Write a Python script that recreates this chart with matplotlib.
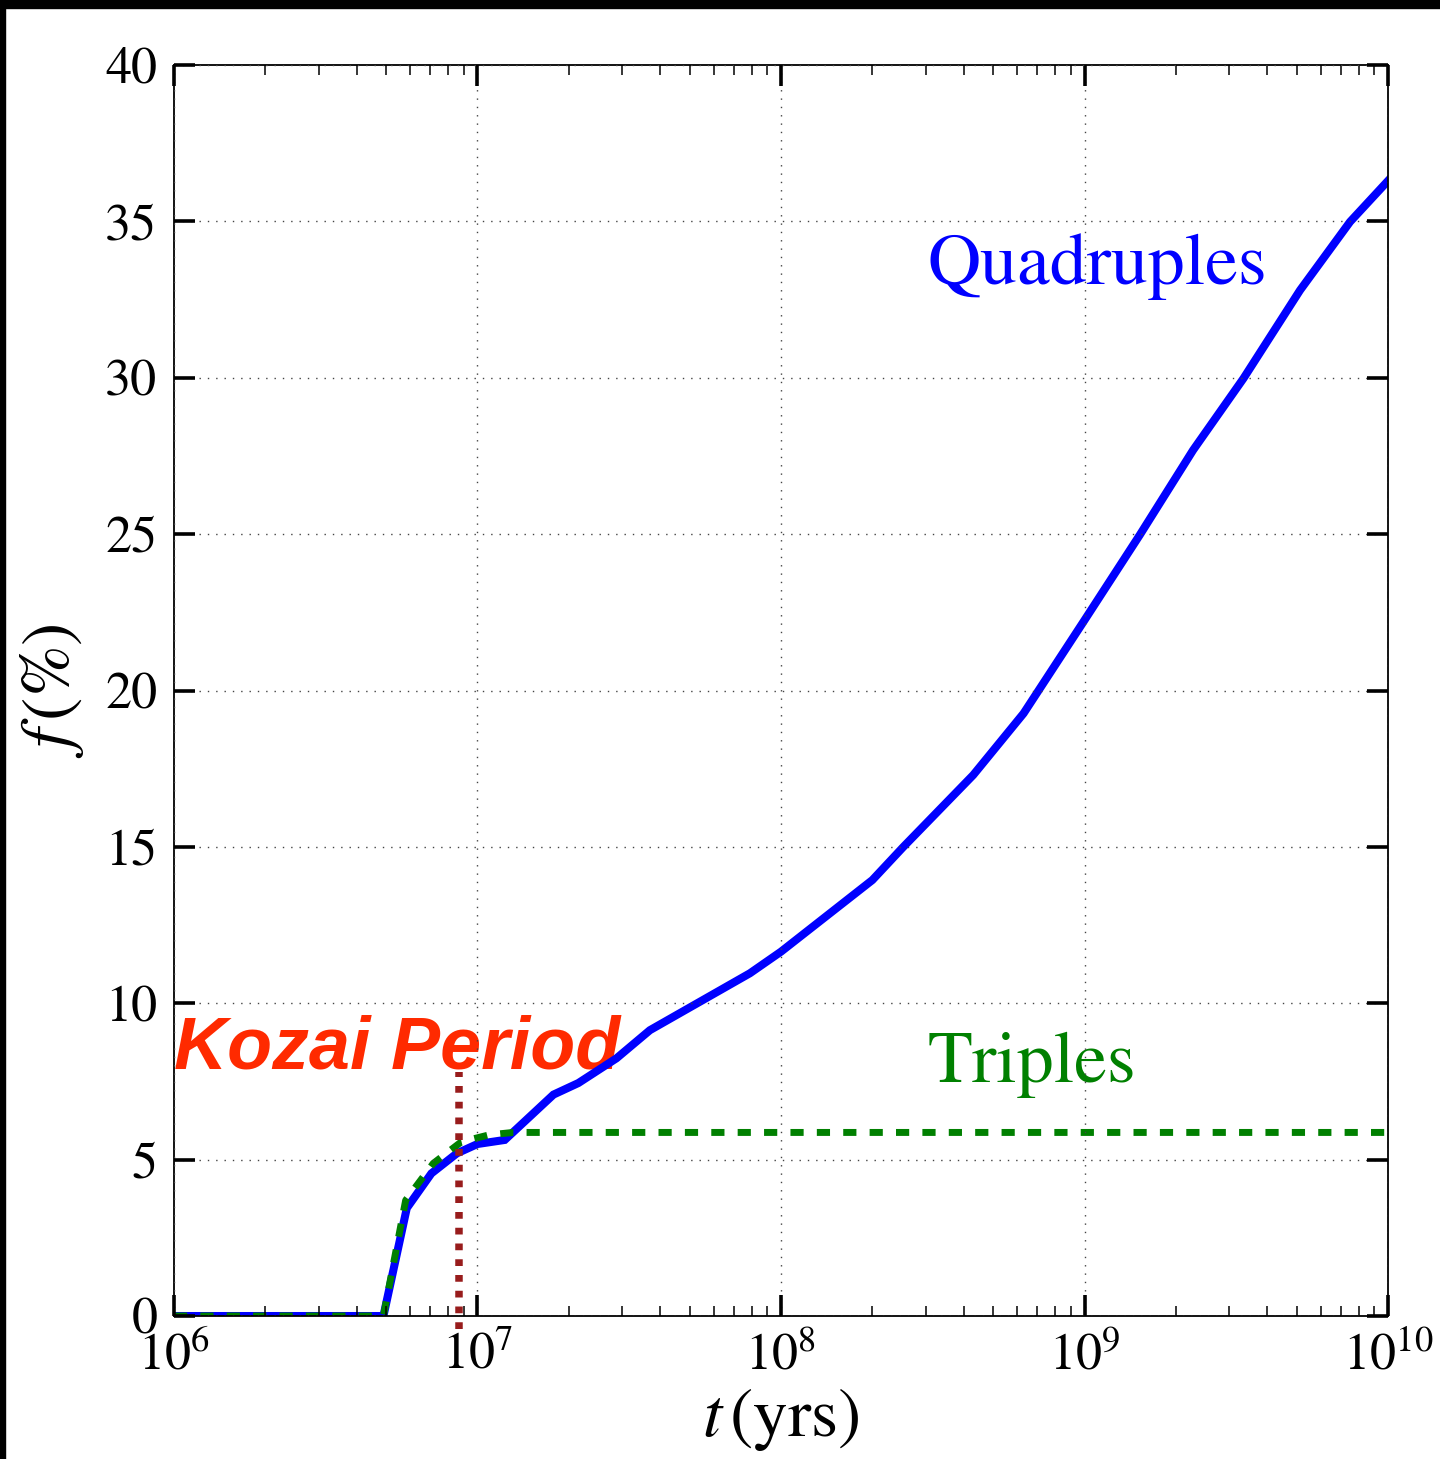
import matplotlib
matplotlib.use('Agg')
import matplotlib.pyplot as plt
from matplotlib.patches import Rectangle
from matplotlib.ticker import LogLocator, MultipleLocator, NullFormatter

plt.rcParams['font.family'] = ['STIXGeneral', 'DejaVu Serif']
plt.rcParams['mathtext.fontset'] = 'stix'

# 四體系統（Quadruples）累積比例
t_quad = [1e6, 4.9e6, 5.85e6, 7.05e6, 8.55e6, 1.0e7, 1.23e7, 1.78e7, 2.15e7,
          2.87e7, 3.7e7, 7.9e7, 1.0e8, 2.0e8, 2.53e8, 4.3e8, 6.3e8, 1.0e9,
          1.52e9, 2.28e9, 3.34e9, 5.13e9, 7.5e9, 1.0e10]
f_quad = [0.0, 0.0, 3.45, 4.56, 5.2, 5.5, 5.63, 7.08, 7.45,
          8.24, 9.14, 10.96, 11.65, 13.94, 15.0, 17.3, 19.27, 22.25,
          24.97, 27.69, 29.98, 32.8, 34.99, 36.3]

# 三體系統（Triples）累積比例
t_trip = [1e6, 4.9e6, 5.8e6, 7.15e6, 8.85e6, 1.09e7, 1.31e7, 1.0e10]
f_trip = [0.0, 0.0, 3.7, 4.88, 5.57, 5.79, 5.87, 5.87]

# Kozai 週期
t_kozai = 8.7e6
kozai_span = [-0.4, 7.8]

y_ticks = [0, 5, 10, 15, 20, 25, 30, 35, 40]

fig = plt.figure(figsize=(14.4, 14.59), dpi=100)
ax = fig.add_axes([0.1208, 0.0980, 0.8431, 0.8574])

# 圖片上方與左側的黑邊
fig.patches.append(Rectangle((0, 1 - 8 / 1459), 1, 8 / 1459, transform=fig.transFigure,
                             color='black', zorder=0))
fig.patches.append(Rectangle((0, 0), 5 / 1440, 1, transform=fig.transFigure,
                             color='black', zorder=0))

ax.plot(t_quad, f_quad, color='#0000ff', lw=5.8, solid_joinstyle='miter', zorder=2)
ax.plot(t_trip, f_trip, color='#008000', lw=5.0, dashes=(1.9, 1.9), zorder=2.1)
ax.plot([t_kozai, t_kozai], kozai_span, color='#981c1c', lw=5.4,
        dashes=(0.9, 1.2), clip_on=False, zorder=2.2)

ax.set_xscale('log')
ax.set_xlim(1e6, 1e10)
ax.set_ylim(0, 40)
ax.set_yticks(y_ticks)
ax.xaxis.set_major_locator(LogLocator(base=10, numticks=10))
ax.xaxis.set_minor_locator(LogLocator(base=10, subs=range(2, 10), numticks=50))
ax.xaxis.set_minor_formatter(NullFormatter())

ax.set_axisbelow(False)
ax.grid(True, which='major', color='#444444', lw=1.0, dashes=(1, 5))

ax.tick_params(which='both', direction='in', top=True, right=True, labelsize=37.5, pad=12)
ax.tick_params(which='major', length=15, width=2.6)
ax.tick_params(which='minor', length=7, width=1.1)
for s in ax.spines.values():
    s.set_linewidth(1.3)

ax.set_xlabel(r'$t\,(\mathrm{yrs})$', fontsize=50, labelpad=4)
ax.set_ylabel(r'$f\,(\%)$', fontsize=50, labelpad=14)

ax.text(1e6, 7.93, 'Kozai Period', color='#ff2a00', fontsize=53,
        family='Liberation Sans', fontweight='bold', fontstyle='italic',
        ha='left', va='baseline', zorder=1.9)
ax.text(3.05e8, 33.0, 'Quadruples', color='#0000ff', fontsize=53,
        ha='left', va='baseline', zorder=1.9)
ax.text(3.05e8, 7.48, 'Triples', color='#008000', fontsize=53,
        ha='left', va='baseline', zorder=1.9)

fig.savefig('out.png', dpi=100, facecolor='white')
